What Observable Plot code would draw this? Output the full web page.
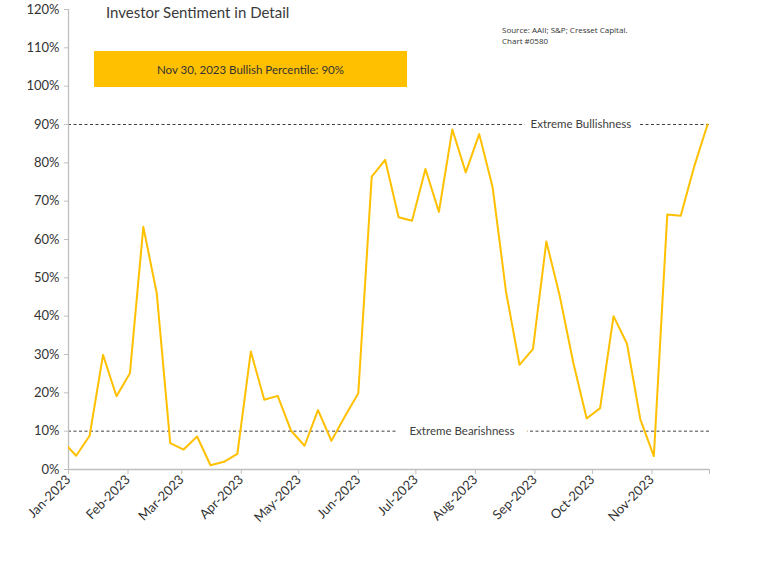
<!DOCTYPE html>
<html><head><meta charset="utf-8">
<script src="https://cdn.jsdelivr.net/npm/d3@7"></script>
<script src="https://cdn.jsdelivr.net/npm/@observablehq/plot@0.6"></script>
<style>
body{margin:0;background:#fff;font-family:Lato,"Open Sans",sans-serif;}
#wrap{position:relative;width:775px;height:563px;}
#title{position:absolute;left:106px;top:3px;font-size:15px;color:#3a3a3a;}
#box{position:absolute;left:94px;top:51px;width:313px;height:36px;background:#FFC000;color:#333;font-size:11.5px;display:flex;align-items:center;justify-content:center;}
#source{position:absolute;left:502px;top:24px;font-size:8px;line-height:11px;color:#333;font-family:"Open Sans",sans-serif;}
</style></head>
<body><div id="wrap"><div id="chart"></div>
<div id="title"></div><div id="box"></div><div id="source"></div></div>
<script>
const titleText = "Investor Sentiment in Detail";
const boxText = "Nov 30, 2023 Bullish Percentile: 90%";
const sourceLines = ["Source: AAII; S&P; Cresset Capital.", "Chart #0580"];

const dates = ["2022-12-29","2023-01-05","2023-01-12","2023-01-19","2023-01-26","2023-02-02","2023-02-09","2023-02-16","2023-02-23",
"2023-03-02","2023-03-09","2023-03-16","2023-03-23","2023-03-30","2023-04-06","2023-04-13","2023-04-20","2023-04-27",
"2023-05-04","2023-05-11","2023-05-18","2023-05-25","2023-06-01","2023-06-08","2023-06-15","2023-06-22","2023-06-29",
"2023-07-06","2023-07-13","2023-07-20","2023-07-27","2023-08-03","2023-08-10","2023-08-17","2023-08-24","2023-08-31",
"2023-09-07","2023-09-14","2023-09-21","2023-09-28","2023-10-05","2023-10-12","2023-10-19","2023-10-26",
"2023-11-02","2023-11-09","2023-11-16","2023-11-23","2023-11-30"];
const bullish = [7.3,3.6,8.8,29.9,19.1,25.1,63.3,45.9,6.9,5.2,8.6,1.1,2.0,4.1,30.8,18.2,19.2,10.1,6.2,15.5,
7.5,13.8,19.9,76.4,80.8,65.8,64.9,78.4,67.2,88.7,77.5,87.5,73.6,46.3,27.3,31.4,59.5,45.2,27.9,13.3,
16.0,40.0,32.8,13.0,3.5,66.5,66.2,79.0,90.0];
const refLevels = [90, 10];
const refLabels = ["Extreme Bullishness", "Extreme Bearishness"];
const refLabelDates = ["2023-09-25", "2023-07-25"];
const yTicks = [0,10,20,30,40,50,60,70,80,90,100,110,120];
const monthTicks = ["2023-01-01","2023-02-01","2023-03-01","2023-04-01","2023-05-01","2023-06-01","2023-07-01","2023-08-01","2023-09-01","2023-10-01","2023-11-01","2023-12-01"];
const monthLabels = ["Jan-2023","Feb-2023","Mar-2023","Apr-2023","May-2023","Jun-2023","Jul-2023","Aug-2023","Sep-2023","Oct-2023","Nov-2023",""];

document.getElementById("title").textContent = titleText;
document.getElementById("box").textContent = boxText;
document.getElementById("source").innerHTML = sourceLines.join("<br>");

const series = dates.map((d,i)=>({date:new Date(d+"T00:00:00Z"), v:bullish[i]}));
const refs = refLevels.map((y,i)=>({y, label:refLabels[i], date:new Date(refLabelDates[i]+"T00:00:00Z")}));
const tickDates = monthTicks.map(d=>new Date(d+"T00:00:00Z"));
const labelOf = new Map(tickDates.map((d,i)=>[+d, monthLabels[i]]));
const xDomain = [tickDates[0], tickDates[tickDates.length-1]];

const chart = Plot.plot({
  width: 775, height: 563,
  marginLeft: 68, marginRight: 66, marginTop: 9, marginBottom: 94,
  style: {fontFamily: "Lato, 'Open Sans', sans-serif", background: "#fff"},
  x: {type: "utc", domain: xDomain},
  y: {domain: [0, 120]},
  marks: [
    Plot.ruleY(refs, {y: "y", stroke: "#404040", strokeWidth: 1, strokeDasharray: "3,2.5"}),
    Plot.text(refs, {x: "date", y: "y", text: "label", fill: "#404040", fontSize: 11.5, stroke: "white", strokeWidth: (d, i) => i === 0 ? 14 : 26, strokeLinejoin: "round"}),
    Plot.ruleY([0], {stroke: "#bfbfbf", strokeWidth: 1.3}),
    Plot.ruleX([xDomain[0]], {stroke: "#bfbfbf", strokeWidth: 1.3}),
    Plot.axisY({ticks: yTicks, tickFormat: d => d + "%", tickSize: 4, tickPadding: 5, fontSize: 13, stroke: "#bfbfbf", fill: "#333", label: null}),
    Plot.axisX({ticks: tickDates, tickFormat: d => labelOf.get(+d), tickSize: 5, tickPadding: 3, tickRotate: -45, fontSize: 13, stroke: "#bfbfbf", fill: "#333", label: null}),
    Plot.lineY(series, {x: "date", y: "v", stroke: "#FFC000", strokeWidth: 2, clip: true})
  ]
});
document.getElementById("chart").appendChild(chart);
</script></body></html>
